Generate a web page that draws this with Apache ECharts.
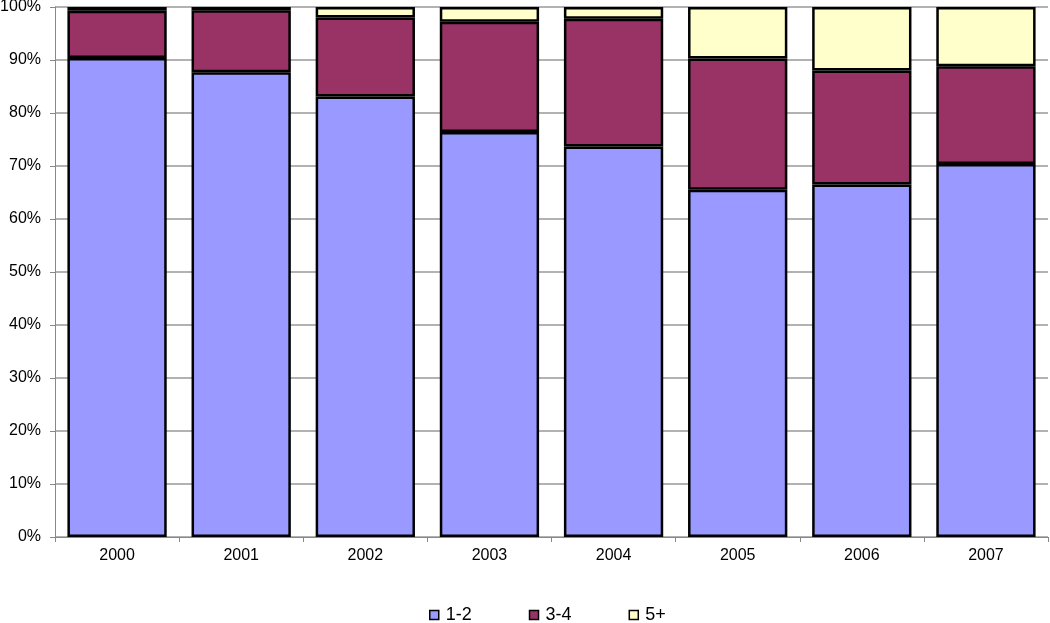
<!DOCTYPE html>
<html><head><meta charset="utf-8">
<script src="https://cdn.jsdelivr.net/npm/echarts@6/dist/echarts.min.js"></script>
<style>html,body{margin:0;padding:0;background:#fff}#c{width:1050px;height:623px}</style>
</head><body><div id="c"></div>
<script>
const categories = ['2000','2001','2002','2003','2004','2005','2006','2007'];
const s12 = [90.4, 87.7, 83.1, 76.4, 73.7, 65.5, 66.5, 70.4];
const s34 = [8.9, 11.7, 14.9, 20.8, 24.1, 24.8, 21.5, 18.4];
const s5p = [0.7, 0.6, 2.0, 2.8, 2.2, 9.7, 12.0, 11.2];
const seriesNames = ['1-2', '3-4', '5+'];
const colors = ['#9999FF', '#993366', '#FFFFCC'];
const yTicks = [0, 10, 20, 30, 40, 50, 60, 70, 80, 90, 100];

const chart = echarts.init(document.getElementById('c'));
const font = 'Liberation Sans, Arial, sans-serif';
const mk = (name, data, i) => ({
  name, type: 'bar', stack: 'a', data,
  barCategoryGap: '20%',
  itemStyle: { color: colors[i], borderColor: '#000', borderWidth: 2.5 },
  emphasis: { disabled: true }
});
chart.setOption({
  animation: false,
  grid: { left: 55, right: 2, top: 7, bottom: 86, outerBoundsMode: 'none', containLabel: false },
  legend: {
    top: 601, left: 424, itemGap: 57,
    itemWidth: 9, itemHeight: 9, icon: 'rect',
    textStyle: { fontFamily: font, fontSize: 18, color: '#000', padding: [0, 0, 0, 2] },
    itemStyle: { borderColor: '#000', borderWidth: 1.5 },
    data: seriesNames
  },
  xAxis: {
    type: 'category', data: categories,
    axisLine: { lineStyle: { color: '#888', width: 1 } },
    axisTick: { show: true, length: 5, lineStyle: { color: '#888' } },
    axisLabel: { fontFamily: font, fontSize: 16, color: '#000', margin: 11 }
  },
  yAxis: {
    type: 'value', min: 0, max: 100, interval: 10,
    axisLine: { show: true, lineStyle: { color: '#888' } },
    axisTick: { show: true, length: 5, lineStyle: { color: '#888' } },
    splitLine: { lineStyle: { color: '#999', width: 1.5 } },
    axisLabel: { fontFamily: font, fontSize: 16, color: '#000', margin: 14,
      formatter: v => yTicks.includes(v) ? v + '%' : '' }
  },
  series: [mk(seriesNames[0], s12, 0), mk(seriesNames[1], s34, 1), mk(seriesNames[2], s5p, 2)]
});
</script></body></html>
